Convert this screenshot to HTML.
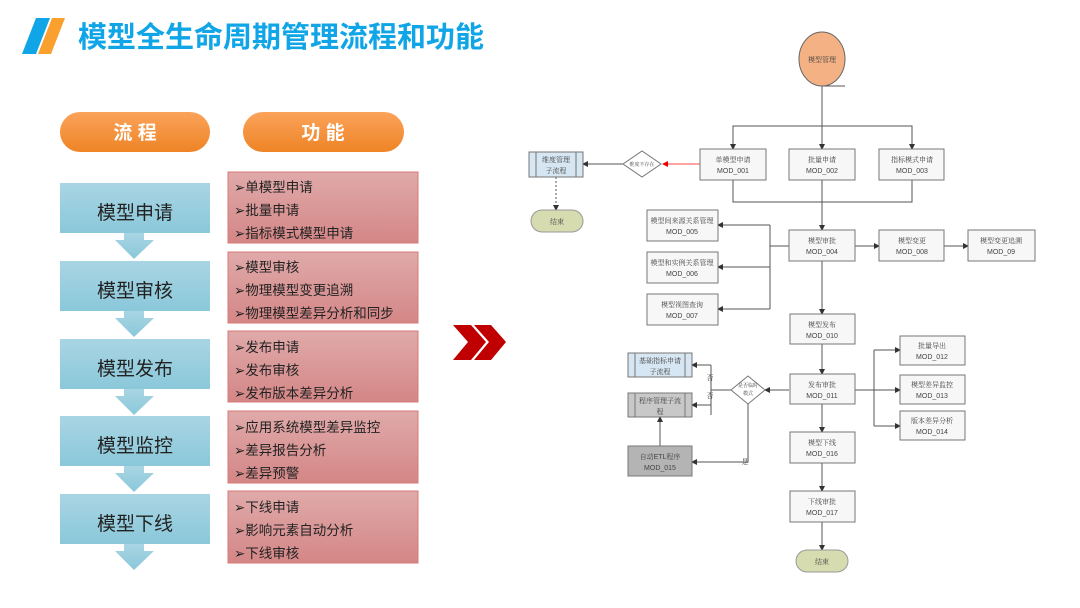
<!DOCTYPE html>
<html><head><meta charset="utf-8"><style>
html,body{margin:0;padding:0;background:#fff;width:1080px;height:608px;overflow:hidden}
svg{display:block}
.cn{font-family:"Liberation Sans","Noto Sans CJK SC",sans-serif}
.sm{font-family:"Liberation Sans","Noto Serif CJK SC",serif;font-size:7px;fill:#444}
</style></head><body>
<svg width="1080" height="608" viewBox="0 0 1080 608" xmlns="http://www.w3.org/2000/svg">
<defs>
<linearGradient id="or" x1="0" y1="0" x2="0" y2="1"><stop offset="0" stop-color="#fba35a"/><stop offset="1" stop-color="#ee8426"/></linearGradient>
<linearGradient id="bl" x1="0" y1="0" x2="0" y2="1"><stop offset="0" stop-color="#a9d5e3"/><stop offset="1" stop-color="#8ac8da"/></linearGradient>
<linearGradient id="rd" x1="0" y1="0" x2="0" y2="1"><stop offset="0" stop-color="#e0aaaa"/><stop offset="1" stop-color="#d48686"/></linearGradient>
<marker id="a" markerWidth="6" markerHeight="6" refX="5" refY="3" orient="auto" markerUnits="userSpaceOnUse"><path d="M0,0 L6,3 L0,6z" fill="#333"/></marker>
<marker id="ar" markerWidth="6" markerHeight="6" refX="5" refY="3" orient="auto" markerUnits="userSpaceOnUse"><path d="M0,0 L6,3 L0,6z" fill="#e00"/></marker>
<g id="blk"><path d="M0,0"/></g>
</defs>
<!-- title -->
<polygon points="36,18 50,18 36,54 22,54" fill="#10a5e6"/>
<polygon points="52,18 65,18 51,54 38,54" fill="#f9a02e"/>
<text x="78" y="47" class="cn" font-size="29" font-weight="bold" fill="#10a5e6">模型全生命周期管理流程和功能</text>
<!-- pills -->
<rect x="60" y="112" width="150" height="40" rx="20" fill="url(#or)"/>
<text x="135" y="139" class="cn" font-size="19" font-weight="bold" fill="#fff" text-anchor="middle">流 程</text>
<rect x="243" y="112" width="161" height="40" rx="20" fill="url(#or)"/>
<text x="323" y="139" class="cn" font-size="19" font-weight="bold" fill="#fff" text-anchor="middle">功 能</text>
<!-- blue steps -->
<g fill="url(#bl)">
<g transform="translate(0,0)"><rect x="60" y="183" width="150" height="50"/><polygon points="124,233 144,233 144,240 154,240 134,259 115,240 124,240"/></g>
<g transform="translate(0,78)"><rect x="60" y="183" width="150" height="50"/><polygon points="124,233 144,233 144,240 154,240 134,259 115,240 124,240"/></g>
<g transform="translate(0,156)"><rect x="60" y="183" width="150" height="50"/><polygon points="124,233 144,233 144,240 154,240 134,259 115,240 124,240"/></g>
<g transform="translate(0,233)"><rect x="60" y="183" width="150" height="50"/><polygon points="124,233 144,233 144,240 154,240 134,259 115,240 124,240"/></g>
<g transform="translate(0,311)"><rect x="60" y="183" width="150" height="50"/><polygon points="124,233 144,233 144,240 154,240 134,259 115,240 124,240"/></g>
</g>
<g class="cn" font-size="19" fill="#222" text-anchor="middle">
<text x="135" y="219">模型申请</text><text x="135" y="297">模型审核</text><text x="135" y="375">模型发布</text><text x="135" y="452">模型监控</text><text x="135" y="530">模型下线</text>
</g>
<!-- red boxes -->
<g fill="url(#rd)" stroke="#d87878" stroke-width="1">
<rect x="228" y="172" width="190" height="71"/><rect x="228" y="252" width="190" height="71"/><rect x="228" y="331" width="190" height="71"/><rect x="228" y="411" width="190" height="72"/><rect x="228" y="491" width="190" height="72"/>
</g>
<g class="cn" font-size="13.5" fill="#222">
<text x="234" y="192">➢单模型申请</text><text x="234" y="215">➢批量申请</text><text x="234" y="238">➢指标模式模型申请</text>
<text x="234" y="272">➢模型审核</text><text x="234" y="295">➢物理模型变更追溯</text><text x="234" y="318">➢物理模型差异分析和同步</text>
<text x="234" y="352">➢发布申请</text><text x="234" y="375">➢发布审核</text><text x="234" y="398">➢发布版本差异分析</text>
<text x="234" y="432">➢应用系统模型差异监控</text><text x="234" y="455">➢差异报告分析</text><text x="234" y="478">➢差异预警</text>
<text x="234" y="512">➢下线申请</text><text x="234" y="535">➢影响元素自动分析</text><text x="234" y="558">➢下线审核</text>
</g>
<!-- chevrons -->
<polygon points="453,325 471,325 486,342 471,360 453,360 468,342" fill="#c00000"/>
<polygon points="474,325 491,325 506,342 491,360 474,360 489,342" fill="#c00000"/>
<!-- flowchart -->
<g stroke="#555" stroke-width="1" fill="none">
<line x1="822" y1="86" x2="845" y2="86"/>
<line x1="822" y1="86" x2="822" y2="149" marker-end="url(#a)"/>
<polyline points="733,149 733,126 912,126 912,149" />
<line x1="733" y1="140" x2="733" y2="149" marker-end="url(#a)"/>
<line x1="912" y1="140" x2="912" y2="149" marker-end="url(#a)"/>
<polyline points="733,180 733,202 912,202 912,180"/>
<line x1="822" y1="180" x2="822" y2="230" marker-end="url(#a)"/>
<line x1="855" y1="246" x2="879" y2="246" marker-end="url(#a)"/>
<line x1="944" y1="246" x2="968" y2="246" marker-end="url(#a)"/>
<line x1="789" y1="246" x2="770" y2="246"/>
<polyline points="770,225 770,309"/>
<line x1="770" y1="225" x2="718" y2="225" marker-end="url(#a)"/>
<line x1="770" y1="267" x2="718" y2="267" marker-end="url(#a)"/>
<line x1="770" y1="309" x2="718" y2="309" marker-end="url(#a)"/>
<line x1="822" y1="261" x2="822" y2="314" marker-end="url(#a)"/>
<line x1="822" y1="344" x2="822" y2="374" marker-end="url(#a)"/>
<line x1="822" y1="404" x2="822" y2="432" marker-end="url(#a)"/>
<line x1="822" y1="463" x2="822" y2="491" marker-end="url(#a)"/>
<line x1="822" y1="522" x2="822" y2="550" marker-end="url(#a)"/>
<line x1="855" y1="390" x2="900" y2="390" marker-end="url(#a)"/>
<polyline points="874,350 874,426"/>
<line x1="874" y1="350" x2="900" y2="350" marker-end="url(#a)"/>
<line x1="874" y1="426" x2="900" y2="426" marker-end="url(#a)"/>
<line x1="789" y1="390" x2="765" y2="390" marker-end="url(#a)"/>
<polyline points="731,390 711,390"/>
<polyline points="711,365 711,415"/>
<line x1="711" y1="365" x2="692" y2="365" marker-end="url(#a)"/>
<line x1="711" y1="405" x2="692" y2="405" marker-end="url(#a)"/>
<polyline points="748,404 748,462 692,462" marker-end="url(#a)"/>
<line x1="660" y1="446" x2="660" y2="417" marker-end="url(#a)"/>
<line x1="623" y1="164" x2="583" y2="164" marker-end="url(#a)"/>
<line x1="556" y1="177" x2="556" y2="210" stroke-dasharray="2,2" marker-end="url(#a)"/>
</g>
<line x1="700" y1="164" x2="663" y2="164" stroke="#f44" stroke-width="1" marker-end="url(#ar)"/>
<!-- circle -->
<ellipse cx="822" cy="59" rx="23" ry="27" fill="#f4b183" stroke="#666"/>
<text x="822" y="62" class="sm" text-anchor="middle">模型管理</text>
<!-- boxes -->
<g fill="#f7f7f7" stroke="#777" stroke-width="1">
<rect x="700" y="149" width="66" height="31"/><rect x="789" y="149" width="66" height="31"/><rect x="879" y="149" width="65" height="31"/>
<rect x="789" y="230" width="66" height="31"/><rect x="879" y="230" width="65" height="31"/><rect x="968" y="230" width="67" height="31"/>
<rect x="647" y="210" width="71" height="31"/><rect x="647" y="252" width="71" height="31"/><rect x="647" y="294" width="71" height="31"/>
<rect x="790" y="314" width="65" height="30"/><rect x="790" y="374" width="65" height="30"/><rect x="790" y="432" width="65" height="31"/><rect x="790" y="491" width="65" height="31"/>
<rect x="900" y="336" width="65" height="29"/><rect x="900" y="375" width="65" height="29"/><rect x="900" y="411" width="65" height="29"/>
</g>
<rect x="529" y="152" width="54" height="25" fill="#d6e6f2" stroke="#777"/>
<line x1="536" y1="152" x2="536" y2="177" stroke="#777"/><line x1="576" y1="152" x2="576" y2="177" stroke="#777"/>
<rect x="628" y="353" width="64" height="24" fill="#d6e6f2" stroke="#777"/>
<line x1="635" y1="353" x2="635" y2="377" stroke="#777"/><line x1="685" y1="353" x2="685" y2="377" stroke="#777"/>
<rect x="628" y="393" width="64" height="24" fill="#c8c8c8" stroke="#777"/>
<line x1="635" y1="393" x2="635" y2="417" stroke="#777"/><line x1="685" y1="393" x2="685" y2="417" stroke="#777"/>
<rect x="628" y="446" width="64" height="30" fill="#b4b4b4" stroke="#777"/>
<polygon points="623,164 642,151 661,164 642,177" fill="#fff" stroke="#777"/>
<polygon points="731,390 748,376 765,390 748,404" fill="#fff" stroke="#777"/>
<rect x="531" y="210" width="52" height="22" rx="11" fill="#d6dcb0" stroke="#999"/>
<rect x="796" y="550" width="52" height="22" rx="11" fill="#d6dcb0" stroke="#999"/>
<g class="sm" text-anchor="middle">
<text x="733" y="162">单模型申请</text><text x="733" y="173">MOD_001</text>
<text x="822" y="162">批量申请</text><text x="822" y="173">MOD_002</text>
<text x="912" y="162">指标模式申请</text><text x="912" y="173">MOD_003</text>
<text x="822" y="243">模型审批</text><text x="822" y="254">MOD_004</text>
<text x="912" y="243">模型变更</text><text x="912" y="254">MOD_008</text>
<text x="1001" y="243">模型变更追溯</text><text x="1001" y="254">MOD_09</text>
<text x="682" y="223">模型间来源关系管理</text><text x="682" y="234">MOD_005</text>
<text x="682" y="265">模型和实例关系管理</text><text x="682" y="276">MOD_006</text>
<text x="682" y="307">模型视图查询</text><text x="682" y="318">MOD_007</text>
<text x="822" y="327">模型发布</text><text x="822" y="338">MOD_010</text>
<text x="822" y="387">发布审批</text><text x="822" y="398">MOD_011</text>
<text x="822" y="445">模型下线</text><text x="822" y="456">MOD_016</text>
<text x="822" y="504">下线审批</text><text x="822" y="515">MOD_017</text>
<text x="932" y="348">批量导出</text><text x="932" y="359">MOD_012</text>
<text x="932" y="387">模型差异监控</text><text x="932" y="398">MOD_013</text>
<text x="932" y="423">版本差异分析</text><text x="932" y="434">MOD_014</text>
<text x="556" y="162">维度管理</text><text x="556" y="173">子流程</text>
<text x="660" y="363">基础指标申请</text><text x="660" y="374">子流程</text>
<text x="660" y="403">程序管理子流</text><text x="660" y="414">程</text>
<text x="660" y="459">自动ETL程序</text><text x="660" y="470">MOD_015</text>
<text x="557" y="224">结束</text><text x="822" y="564">结束</text>
<text x="642" y="166" font-size="5">维度不存在</text>
<text x="748" y="387" font-size="5">是否临时</text><text x="748" y="395" font-size="5">模式</text>
<text x="710" y="380">否</text><text x="710" y="398">否</text><text x="745" y="464">是</text>
</g>
</svg>
</body></html>
